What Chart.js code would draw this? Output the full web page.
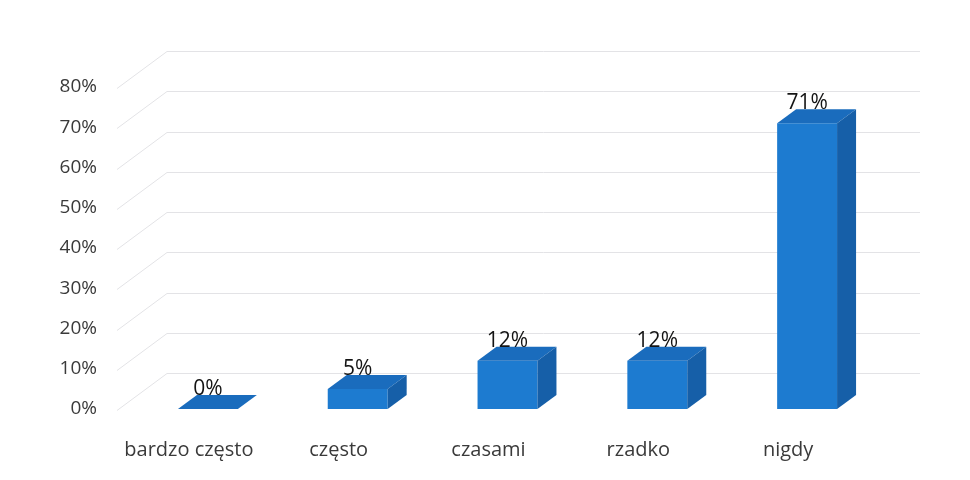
<!DOCTYPE html>
<html>
<head>
<meta charset="utf-8">
<script src="https://cdn.jsdelivr.net/npm/chart.js@4"></script>
<style>
  html, body { margin: 0; padding: 0; background: #ffffff; }
  #wrap { width: 970px; height: 480px; }
</style>
</head>
<body>
<div id="wrap"><canvas id="c" width="970" height="480"></canvas></div>
<script>
const categories = ["bardzo często", "często", "czasami", "rzadko", "nigdy"];
const values = [0, 5, 12, 12, 71];
const yTickValues = [0, 10, 20, 30, 40, 50, 60, 70, 80];

const FRONT = "#1d7bd0";
const TOP = "#1a6cbd";
const SIDE = "#165fa8";
const DX = 19, DY = -14;
const WALL_DX = 50, WALL_DY = -37;

const wallPlugin = {
  id: "wall3d",
  beforeDatasetsDraw(chart) {
    const ctx = chart.ctx;
    const y = chart.scales.y;
    const area = chart.chartArea;
    ctx.save();
    ctx.strokeStyle = "#e3e3e6";
    ctx.lineWidth = 1;
    yTickValues.forEach(v => {
      const yf = Math.round(y.getPixelForValue(v)) + 1.5;
      const xf = area.left - 16;
      ctx.beginPath();
      ctx.moveTo(xf, yf);
      ctx.lineTo(xf + WALL_DX, yf + WALL_DY);
      ctx.lineTo(920, yf + WALL_DY);
      ctx.stroke();
    });
    ctx.restore();
  }
};

const bar3dPlugin = {
  id: "bar3d",
  afterDatasetsDraw(chart) {
    const ctx = chart.ctx;
    const meta = chart.getDatasetMeta(0);
    ctx.save();
    meta.data.forEach((bar, i) => {
      const p = bar.getProps(["x", "y", "base", "width"], true);
      const l = p.x - p.width / 2, r = p.x + p.width / 2;
      const t = Math.min(p.y, p.base), b = Math.max(p.y, p.base);
      ctx.fillStyle = TOP;
      ctx.beginPath();
      ctx.moveTo(l, t); ctx.lineTo(r, t); ctx.lineTo(r + DX, t + DY); ctx.lineTo(l + DX, t + DY);
      ctx.closePath(); ctx.fill();
      if (b - t > 0.5) {
        ctx.fillStyle = SIDE;
        ctx.beginPath();
        ctx.moveTo(r, t); ctx.lineTo(r + DX, t + DY); ctx.lineTo(r + DX, b + DY); ctx.lineTo(r, b);
        ctx.closePath(); ctx.fill();
      }
      ctx.fillStyle = "#141414";
      ctx.font = "21px 'Open Sans'";
      ctx.textAlign = "center";
      ctx.textBaseline = "alphabetic";
      ctx.fillText(values[i] + "%", p.x, t - 14);
    });
    ctx.restore();
  }
};

new Chart(document.getElementById("c"), {
  type: "bar",
  data: {
    labels: categories,
    datasets: [{
      data: values,
      backgroundColor: FRONT,
      borderWidth: 0,
      barPercentage: 0.4,
      categoryPercentage: 1.0
    }]
  },
  options: {
    responsive: false,
    animation: false,
    devicePixelRatio: 1,
    layout: { padding: { top: 87, right: 88, bottom: 0, left: 0 } },
    plugins: { legend: { display: false }, tooltip: { enabled: false } },
    scales: {
      x: {
        grid: { display: false, drawTicks: false },
        border: { display: false },
        ticks: {
          color: "#3a3a3a",
          font: { family: "'Open Sans'", size: 20 },
          padding: 29,
          labelOffset: -19,
          maxRotation: 0,
          autoSkip: false
        },
        afterFit(s) { s.height = 71; }
      },
      y: {
        min: 0, max: 80,
        grid: { display: false, drawTicks: false },
        border: { display: false },
        afterBuildTicks(s) { s.ticks = yTickValues.map(v => ({ value: v })); },
        ticks: {
          color: "#3a3a3a",
          font: { family: "'Open Sans'", size: 19 },
          padding: 36,
          callback: v => v + "%"
        },
        afterFit(s) { s.width = 133; }
      }
    }
  },
  plugins: [wallPlugin, bar3dPlugin]
});
</script>
</body>
</html>
